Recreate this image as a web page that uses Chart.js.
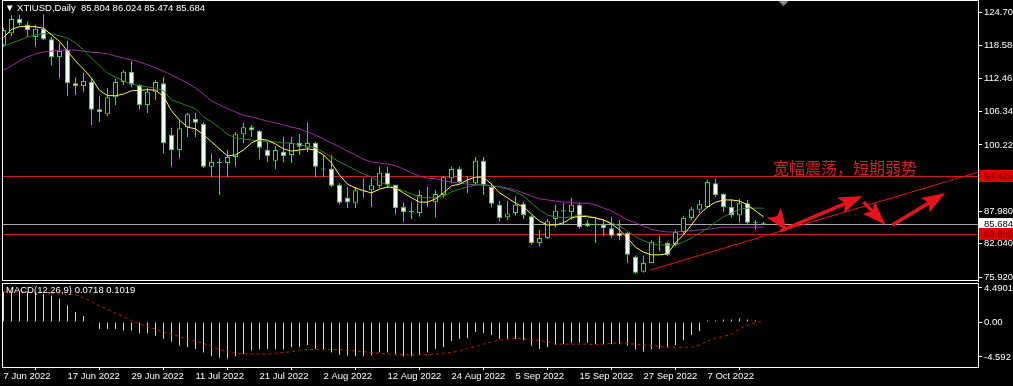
<!DOCTYPE html>
<html><head><meta charset="utf-8"><title>XTIUSD Daily</title>
<script src="https://cdn.jsdelivr.net/npm/chart.js@4.4.1/dist/chart.umd.min.js"></script>
<style>
html,body{margin:0;padding:0;background:#000;}
#wrap{position:relative;width:1013px;height:386px;overflow:hidden;background:#000;}
canvas{position:absolute;left:0;}
#main{top:0;}
#macd{top:282px;}
.txt{position:absolute;white-space:nowrap;font-family:"Liberation Sans",Arial,sans-serif;font-size:9.5px;line-height:12px;color:#fff;}
#title{left:5px;top:2px;}
#macdTitle{left:6px;top:284px;}
#note{left:773px;top:158px;font-family:"Noto Sans CJK SC",sans-serif;font-size:16px;line-height:18px;color:#d82020;}
</style></head><body>
<div id="wrap">
<canvas id="main" width="1013" height="282"></canvas>
<canvas id="macd" width="1013" height="104"></canvas>
<div class="txt" id="title"></div>
<div class="txt" id="macdTitle"></div>
<div class="txt" id="note">宽幅震荡，短期弱势</div>
</div>
<script>
const symbol = 'XTIUSD';
const timeframe = 'Daily';
const dates = ['7 Jun 2022','8 Jun 2022','9 Jun 2022','10 Jun 2022','13 Jun 2022','14 Jun 2022','15 Jun 2022','16 Jun 2022','17 Jun 2022','20 Jun 2022','21 Jun 2022','22 Jun 2022','23 Jun 2022','24 Jun 2022','27 Jun 2022','28 Jun 2022','29 Jun 2022','30 Jun 2022',
'1 Jul 2022','4 Jul 2022','5 Jul 2022','6 Jul 2022','7 Jul 2022','8 Jul 2022','11 Jul 2022','12 Jul 2022','13 Jul 2022','14 Jul 2022','15 Jul 2022','18 Jul 2022','19 Jul 2022','20 Jul 2022','21 Jul 2022','22 Jul 2022','25 Jul 2022','26 Jul 2022','27 Jul 2022','28 Jul 2022','29 Jul 2022',
'1 Aug 2022','2 Aug 2022','3 Aug 2022','4 Aug 2022','5 Aug 2022','8 Aug 2022','9 Aug 2022','10 Aug 2022','11 Aug 2022','12 Aug 2022','15 Aug 2022','16 Aug 2022','17 Aug 2022','18 Aug 2022','19 Aug 2022','22 Aug 2022','23 Aug 2022','24 Aug 2022','25 Aug 2022','26 Aug 2022','29 Aug 2022','30 Aug 2022','31 Aug 2022',
'1 Sep 2022','2 Sep 2022','5 Sep 2022','6 Sep 2022','7 Sep 2022','8 Sep 2022','9 Sep 2022','12 Sep 2022','13 Sep 2022','14 Sep 2022','15 Sep 2022','16 Sep 2022','19 Sep 2022','20 Sep 2022','21 Sep 2022','22 Sep 2022','23 Sep 2022','26 Sep 2022','27 Sep 2022','28 Sep 2022','29 Sep 2022','30 Sep 2022',
'3 Oct 2022','4 Oct 2022','5 Oct 2022','6 Oct 2022','7 Oct 2022','10 Oct 2022','11 Oct 2022','12 Oct 2022','13 Oct 2022','14 Oct 2022','17 Oct 2022','18 Oct 2022'];

const open = [118.6,120.8,123.4,122.4,120.1,121.6,119.7,116.4,117.7,111.6,
111.1,111.8,106.8,105.9,109.0,111.8,113.7,111.3,107.6,110.0,
111.6,102.1,99.3,103.5,105.0,104.1,96.2,97.1,96.9,98.0,
102.2,103.5,102.8,99.3,97.3,99.0,98.4,100.6,99.7,100.6,
95.9,95.8,92.9,90.5,89.6,91.9,91.9,92.7,95.1,92.9,
88.8,87.9,87.7,90.7,89.7,91.0,94.1,95.8,93.5,93.2,
97.3,92.5,89.2,86.9,87.7,89.4,87.1,82.2,83.1,86.6,
88.2,87.9,89.2,85.8,85.5,85.6,84.9,84.0,84.0,79.6,
76.9,78.5,82.45,82.2,82.0,84.2,86.8,88.3,88.8,93.2,
91.2,88.8,87.3,89.5,86.0,85.804];
const high = [121.8,124.1,124.2,123.0,122.3,124.3,120.1,119.0,119.4,112.7,
113.5,112.6,109.2,110.7,112.4,114.0,115.7,111.4,110.7,112.2,
112.7,103.4,104.8,106.1,106.1,104.4,98.6,97.8,99.3,102.6,
104.3,103.9,103.0,100.8,100.0,101.7,101.7,102.2,104.3,100.8,
98.4,98.4,93.2,92.5,92.5,94.1,94.1,96.2,96.2,92.9,
89.7,89.7,91.9,92.5,91.9,94.5,96.2,96.2,94.5,98.0,
98.0,93.2,89.9,89.9,90.8,89.7,87.3,84.6,86.6,89.2,
89.5,90.5,89.7,86.4,86.9,86.6,86.9,86.4,84.2,79.9,
79.9,82.7,83.5,82.4,84.6,87.2,88.8,90.1,93.8,94.0,
91.4,90.3,90.3,90.1,86.4,86.024];
const low = [118.3,120.3,122.2,120.1,118.3,119.5,114.9,112.5,109.2,109.4,
110.0,103.9,104.5,105.5,107.6,111.3,110.9,106.7,106.1,108.5,
98.7,96.2,97.8,101.7,101.7,96.0,94.3,91.0,94.3,96.2,
100.6,101.7,97.6,97.1,95.8,97.0,96.9,98.4,98.9,94.3,
94.3,92.5,89.2,88.6,88.6,90.5,88.8,92.3,92.3,87.5,
86.1,86.6,87.0,88.8,86.9,90.5,93.2,93.2,91.4,92.7,
91.0,88.8,86.2,86.4,87.3,86.6,81.8,81.6,82.9,85.1,
85.5,86.4,84.8,85.1,82.2,83.5,83.1,82.7,78.5,76.5,
76.7,78.5,80.7,79.8,81.6,83.7,86.4,87.7,88.6,90.6,
87.9,86.9,85.9,85.5,84.6,85.474];
const close = [121.4,123.4,122.6,121.4,121.6,119.7,116.4,117.5,111.6,111.1,
112.0,106.7,106.3,109.0,111.8,113.7,111.3,107.6,110.0,111.8,
100.6,99.3,103.3,105.9,104.3,96.2,97.1,96.9,98.0,102.2,
103.5,103.0,99.7,98.2,99.3,98.2,100.6,99.9,100.6,96.2,
95.7,92.7,89.6,89.7,91.9,91.7,92.8,95.1,92.9,88.6,
87.9,88.1,91.0,90.5,91.2,94.3,95.8,93.4,93.3,97.3,
92.7,89.4,86.8,87.6,89.2,87.3,82.2,83.1,86.2,88.1,
88.0,89.2,85.1,85.3,85.7,84.9,83.5,83.4,80.0,76.7,
78.5,82.4,82.25,80.0,84.2,86.8,88.4,89.3,93.4,91.0,
88.8,87.3,89.5,85.9,85.8,85.684];

const maFast = [120.0,121.5,122.0,122.0,122.0,121.7,120.5,119.3,117.5,115.7,
114.2,112.5,110.3,109.3,109.3,109.6,110.2,110.3,110.4,110.3,
109.2,106.5,104.8,103.5,103.2,102.1,100.8,99.5,98.2,98.4,
99.3,100.6,101.3,101.1,100.4,99.5,99.1,99.3,99.5,99.3,
98.4,96.9,94.7,93.0,92.3,91.8,91.4,92.1,92.5,92.3,
91.4,90.5,89.7,89.7,90.3,91.4,92.7,93.0,93.8,94.3,
94.3,93.0,91.4,90.5,89.5,88.8,87.5,86.2,85.5,85.5,
85.9,86.8,87.1,87.0,86.8,86.4,85.7,84.6,83.1,81.4,
80.5,80.0,80.0,80.2,82.2,83.7,85.5,87.5,88.8,89.7,
90.1,90.1,89.9,89.2,88.1,87.0];
const maMid = [118.3,119.0,119.5,120.1,120.5,120.7,120.7,120.3,119.9,119.0,
117.7,116.2,114.8,113.5,112.7,112.0,111.5,111.1,110.9,110.7,
110.2,108.5,108.0,107.4,106.9,105.4,104.5,103.4,102.2,101.5,
101.3,101.1,101.0,100.8,100.8,100.6,100.6,100.2,100.0,99.7,
98.9,98.0,97.1,96.4,95.6,94.9,94.3,93.4,92.9,92.3,
91.8,91.2,90.6,90.5,90.5,90.8,91.6,92.1,92.5,92.9,
92.9,92.7,92.5,92.1,91.6,90.8,89.5,88.3,87.3,87.0,
86.8,87.0,87.3,87.2,86.8,86.4,85.9,85.3,84.4,83.3,
82.6,82.0,81.8,81.8,81.8,82.4,83.1,84.0,84.9,86.0,
87.0,87.7,88.4,88.6,88.6,88.6];
const maSlow = [114.0,114.8,115.7,116.4,117.0,117.3,117.5,117.7,117.7,117.7,
117.5,117.3,117.2,117.0,116.6,116.2,115.9,115.5,115.0,114.4,
113.8,113.1,112.4,111.6,110.7,109.6,108.3,107.6,106.9,106.3,
105.7,105.4,105.0,104.6,104.3,103.9,103.5,103.2,102.6,102.1,
101.3,100.6,99.9,99.1,98.4,97.6,97.1,96.9,96.7,96.4,
95.8,95.1,94.5,94.1,94.0,93.6,93.4,93.2,93.0,92.9,
92.9,92.7,92.5,92.3,91.9,91.4,90.8,90.3,90.1,89.9,
89.7,89.7,89.5,89.5,89.2,88.6,88.1,87.3,86.4,85.9,
85.3,84.7,84.4,84.2,84.2,84.4,84.4,84.6,84.7,84.9,
85.1,85.1,85.1,85.1,85.1,85.1];

const macdHist = [4.0,4.0,4.0,3.9,3.9,3.7,3.5,3.1,2.2,1.3,
0.8,0.1,-0.9,-0.9,-0.9,-1.1,-1.1,-1.5,-1.5,-1.8,
-2.2,-2.6,-3.1,-3.3,-3.5,-4.0,-4.5,-4.7,-4.8,-4.5,
-4.2,-3.7,-3.6,-3.5,-3.6,-3.6,-3.3,-3.3,-3.0,-3.5,
-3.6,-4.0,-4.3,-4.4,-4.5,-4.5,-4.4,-4.0,-4.0,-4.2,
-4.5,-4.5,-4.3,-4.0,-3.5,-3.3,-2.5,-2.2,-2.1,-1.3,
-1.4,-1.7,-2.2,-2.3,-2.2,-2.4,-3.1,-3.5,-3.3,-3.0,
-2.9,-2.7,-2.7,-2.7,-2.9,-2.9,-2.9,-2.9,-3.1,-3.6,
-3.9,-3.6,-3.5,-3.3,-3.0,-2.4,-1.7,-1.2,0.2,0.2,
0.35,0.35,0.5,0.35,0.2,0.0718];
const macdSignal = [4.0,4.0,4.0,4.0,3.9,3.9,3.8,3.7,3.7,3.6,
3.2,2.7,2.1,1.7,1.2,0.7,0.2,-0.2,-0.6,-0.9,
-1.3,-1.6,-1.9,-2.2,-2.5,-2.8,-3.2,-3.6,-3.9,-4.1,
-4.2,-4.2,-4.2,-4.2,-4.1,-4.0,-3.9,-3.7,-3.6,-3.6,
-3.6,-3.6,-3.6,-3.7,-3.8,-3.9,-4.0,-4.1,-4.2,-4.3,
-4.3,-4.3,-4.3,-4.3,-4.2,-4.1,-4.0,-3.8,-3.5,-3.2,
-2.9,-2.6,-2.4,-2.2,-2.1,-2.2,-2.3,-2.4,-2.6,-2.9,
-2.9,-2.9,-2.9,-2.9,-3.0,-2.9,-2.8,-2.7,-2.8,-2.9,
-3.0,-3.1,-3.2,-3.3,-3.3,-3.3,-3.3,-3.0,-2.5,-2.1,
-1.9,-1.6,-0.9,-0.4,-0.1,0.1019];

const priceTicks = [124.70,118.58,112.46,106.34,100.22,87.98,82.04,75.92];
const priceTickLabels = ['124.70','118.58','112.46','106.34','100.22','87.980','82.040','75.920'];
const macdTicks = [4.4901,0,-4.592];
const macdTickLabels = ['4.4901','0.00','-4.592'];
const dateTickIdx = [0,8,16,24,32,40,48,56,64,72,80,88];

const levels = [
  {value:94.425, color:'#d61a1a', bg:'#e00000', fg:'#6a0000'},
  {value:85.684, color:'#a8a8a8', bg:'#ffffff', fg:'#000000'},
  {value:83.865, color:'#d61a1a', bg:'#e00000', fg:'#6a0000'}
];
const trendLine = [[80.9,77.21],[121.9,95.25]];
const arrows = [[96.6,87.15,97.9,84.39],[97.1,84.39,107.4,90.83],[107.5,89.73,110.25,85.5],[111.1,85.5,117.75,91.39]];

const X_MIN = -0.1875, X_MAX = 121.8125;
const P_MIN = 75.184, P_MAX = 126.909;
const M_MIN = -5.908, M_MAX = 5.145;

const GREEN = '#2ee62e';
const FONT = {family:'"Liberation Sans", Arial, sans-serif', size:9.5};
const idx = close.map((_, i) => i);
const last = close.length - 1;

document.getElementById('title').textContent = '\u25BC ' + symbol + ',' + timeframe + '  ' + [open[last], high[last], low[last], close[last]].join(' ');
document.getElementById('title').style.whiteSpace = 'pre';
document.getElementById('macdTitle').textContent = 'MACD(12,26,9) ' + macdHist[last] + ' ' + macdSignal[last];

function drawArrow(ctx, x0, y0, x1, y1) {
  const ang = Math.atan2(y1 - y0, x1 - x0);
  const len = Math.hypot(x1 - x0, y1 - y0);
  const headLen = Math.min(20, len), headW = 17, shaftW = 3.5, notch = 4;
  const sl = len - headLen;
  ctx.save();
  ctx.translate(x0, y0); ctx.rotate(ang);
  ctx.beginPath();
  ctx.moveTo(len, 0);
  ctx.lineTo(sl - notch, -headW / 2);
  ctx.lineTo(sl, -shaftW / 2);
  ctx.lineTo(0, -shaftW / 2);
  ctx.lineTo(0, shaftW / 2);
  ctx.lineTo(sl, shaftW / 2);
  ctx.lineTo(sl - notch, headW / 2);
  ctx.closePath();
  ctx.fill();
  ctx.restore();
}

const mainDecor = {
  id: 'mainDecor',
  beforeDatasetsDraw(chart) {
    const {ctx, chartArea: a, scales: {y}} = chart;
    ctx.save();
    ctx.lineWidth = 1;
    levels.forEach(l => {
      const yy = Math.round(y.getPixelForValue(l.value)) + 0.5;
      ctx.strokeStyle = l.color;
      ctx.beginPath(); ctx.moveTo(a.left, yy); ctx.lineTo(a.right, yy); ctx.stroke();
    });
    ctx.restore();
  },
  afterDatasetsDraw(chart) {
    const {ctx, chartArea: a, scales: {x, y}} = chart;
    ctx.save();
    ctx.beginPath(); ctx.rect(a.left, a.top, a.right - a.left, a.bottom - a.top); ctx.clip();
    ctx.strokeStyle = '#e01818'; ctx.lineWidth = 1;
    ctx.beginPath();
    ctx.moveTo(x.getPixelForValue(trendLine[0][0]), y.getPixelForValue(trendLine[0][1]));
    ctx.lineTo(x.getPixelForValue(trendLine[1][0]), y.getPixelForValue(trendLine[1][1]));
    ctx.stroke();
    ctx.fillStyle = '#e8141c';
    arrows.forEach(r => drawArrow(ctx, x.getPixelForValue(r[0]), y.getPixelForValue(r[1]), x.getPixelForValue(r[2]), y.getPixelForValue(r[3])));
    // chart shift marker
    const sx = x.getPixelForValue(last + 2.5);
    ctx.fillStyle = '#8a8a8a';
    ctx.beginPath(); ctx.moveTo(sx - 6, a.top); ctx.lineTo(sx + 6, a.top); ctx.lineTo(sx, a.top + 6); ctx.closePath(); ctx.fill();
    ctx.restore();
  },
  afterDraw(chart) {
    const {ctx, chartArea: a, scales: {y}} = chart;
    ctx.save();
    ctx.strokeStyle = '#ffffff'; ctx.lineWidth = 1;
    ctx.strokeRect(Math.round(a.left) + 0.5, Math.round(a.top) + 0.5, Math.round(a.right - a.left), Math.round(a.bottom - a.top) - 1);
    ctx.font = '9.5px "Liberation Sans", Arial, sans-serif';
    ctx.textBaseline = 'middle'; ctx.textAlign = 'left';
    levels.forEach(l => {
      const yy = Math.round(y.getPixelForValue(l.value));
      ctx.fillStyle = l.bg;
      ctx.fillRect(a.right + 1, yy - 6, 40, 12);
      ctx.fillStyle = l.fg;
      ctx.fillText(l.value.toFixed(3), a.right + 6, yy + 0.5);
    });
    ctx.restore();
  }
};

const frameOnly = {
  id: 'frameOnly',
  afterDraw(chart) {
    const {ctx, chartArea: a} = chart;
    ctx.save();
    ctx.strokeStyle = '#ffffff'; ctx.lineWidth = 1;
    ctx.strokeRect(Math.round(a.left) + 0.5, Math.round(a.top) + 0.5, Math.round(a.right - a.left), Math.round(a.bottom - a.top));
    ctx.restore();
  }
};

new Chart(document.getElementById('main'), {
  data: {
    datasets: [
      {type:'line', label:'MA fast', data: idx.map(i => ({x:i, y:maFast[i]})), borderColor:'#ffff3c', borderWidth:1, pointRadius:0, tension:0, order:0},
      {type:'line', label:'MA mid', data: idx.map(i => ({x:i, y:maMid[i]})), borderColor:'#1f8a1f', borderWidth:1, pointRadius:0, tension:0, order:0},
      {type:'line', label:'MA slow', data: idx.map(i => ({x:i, y:maSlow[i]})), borderColor:'#9e2ca0', borderWidth:1, pointRadius:0, tension:0, order:0},
      {type:'bar', label:'Body', data: idx.map(i => ({x:i, y:[open[i], close[i]]})),
        backgroundColor: idx.map(i => close[i] < open[i] ? '#ffffff' : '#000000'),
        borderColor: GREEN, borderWidth:1, borderSkipped:false, barThickness:5, grouped:false, inflateAmount:0, order:1},
      {type:'bar', label:'Wick', data: idx.map(i => ({x:i, y:[low[i], high[i]]})),
        backgroundColor: GREEN, borderWidth:0, barThickness:1, grouped:false, inflateAmount:0, order:2}
    ]
  },
  options: {
    responsive:false, animation:false, devicePixelRatio:1,
    layout:{padding:{left:2, top:0, right:0, bottom:1}},
    plugins:{legend:{display:false}, tooltip:{enabled:false}, title:{display:false}},
    scales:{
      x:{type:'linear', min:X_MIN, max:X_MAX, display:false, offset:false},
      y:{type:'linear', position:'right', min:P_MIN, max:P_MAX,
        afterFit(s){ s.width = 35; s.paddingTop = 0; s.paddingBottom = 0; },
        afterBuildTicks(s){ s.ticks = priceTicks.map(v => ({value:v})); },
        ticks:{callback:(v, i) => priceTickLabels[i], color:'#ffffff', font:FONT, padding:2, autoSkip:false},
        grid:{drawOnChartArea:false, drawTicks:true, tickLength:4, color:'#ffffff'},
        border:{display:true, color:'#ffffff'}}
    }
  },
  plugins:[mainDecor]
});

new Chart(document.getElementById('macd'), {
  data: {
    datasets: [
      {type:'line', label:'Signal', data: idx.map(i => ({x:i, y:macdSignal[i]})), borderColor:'#c81818', borderWidth:1, borderDash:[3,3], pointRadius:0, tension:0, order:0},
      {type:'bar', label:'MACD', data: idx.map(i => ({x:i, y:macdHist[i]})), backgroundColor:'#d8d8d8', borderWidth:0, barThickness:1, inflateAmount:0, order:1}
    ]
  },
  options: {
    responsive:false, animation:false, devicePixelRatio:1,
    layout:{padding:{left:2, top:1, right:0, bottom:0}},
    plugins:{legend:{display:false}, tooltip:{enabled:false}},
    scales:{
      x:{type:'linear', min:X_MIN, max:X_MAX, offset:false,
        afterFit(s){ s.height = 19; s.paddingLeft = 0; s.paddingRight = 0; },
        afterBuildTicks(s){ s.ticks = dateTickIdx.map(v => ({value:v})); },
        ticks:{callback:(v, i) => dates[dateTickIdx[i]], color:'#ffffff', font:FONT, padding:1, autoSkip:false, maxRotation:0, minRotation:0, align:'start'},
        grid:{drawOnChartArea:false, drawTicks:true, tickLength:3, color:'#ffffff'},
        border:{display:true, color:'#ffffff'}},
      y:{type:'linear', position:'right', min:M_MIN, max:M_MAX,
        afterFit(s){ s.width = 35; s.paddingTop = 0; s.paddingBottom = 0; },
        afterBuildTicks(s){ s.ticks = macdTicks.map(v => ({value:v})); },
        ticks:{callback:(v, i) => macdTickLabels[i], color:'#ffffff', font:FONT, padding:2, autoSkip:false},
        grid:{drawOnChartArea:false, drawTicks:true, tickLength:4, color:'#ffffff'},
        border:{display:true, color:'#ffffff'}}
    }
  },
  plugins:[frameOnly]
});
</script>
</body></html>
